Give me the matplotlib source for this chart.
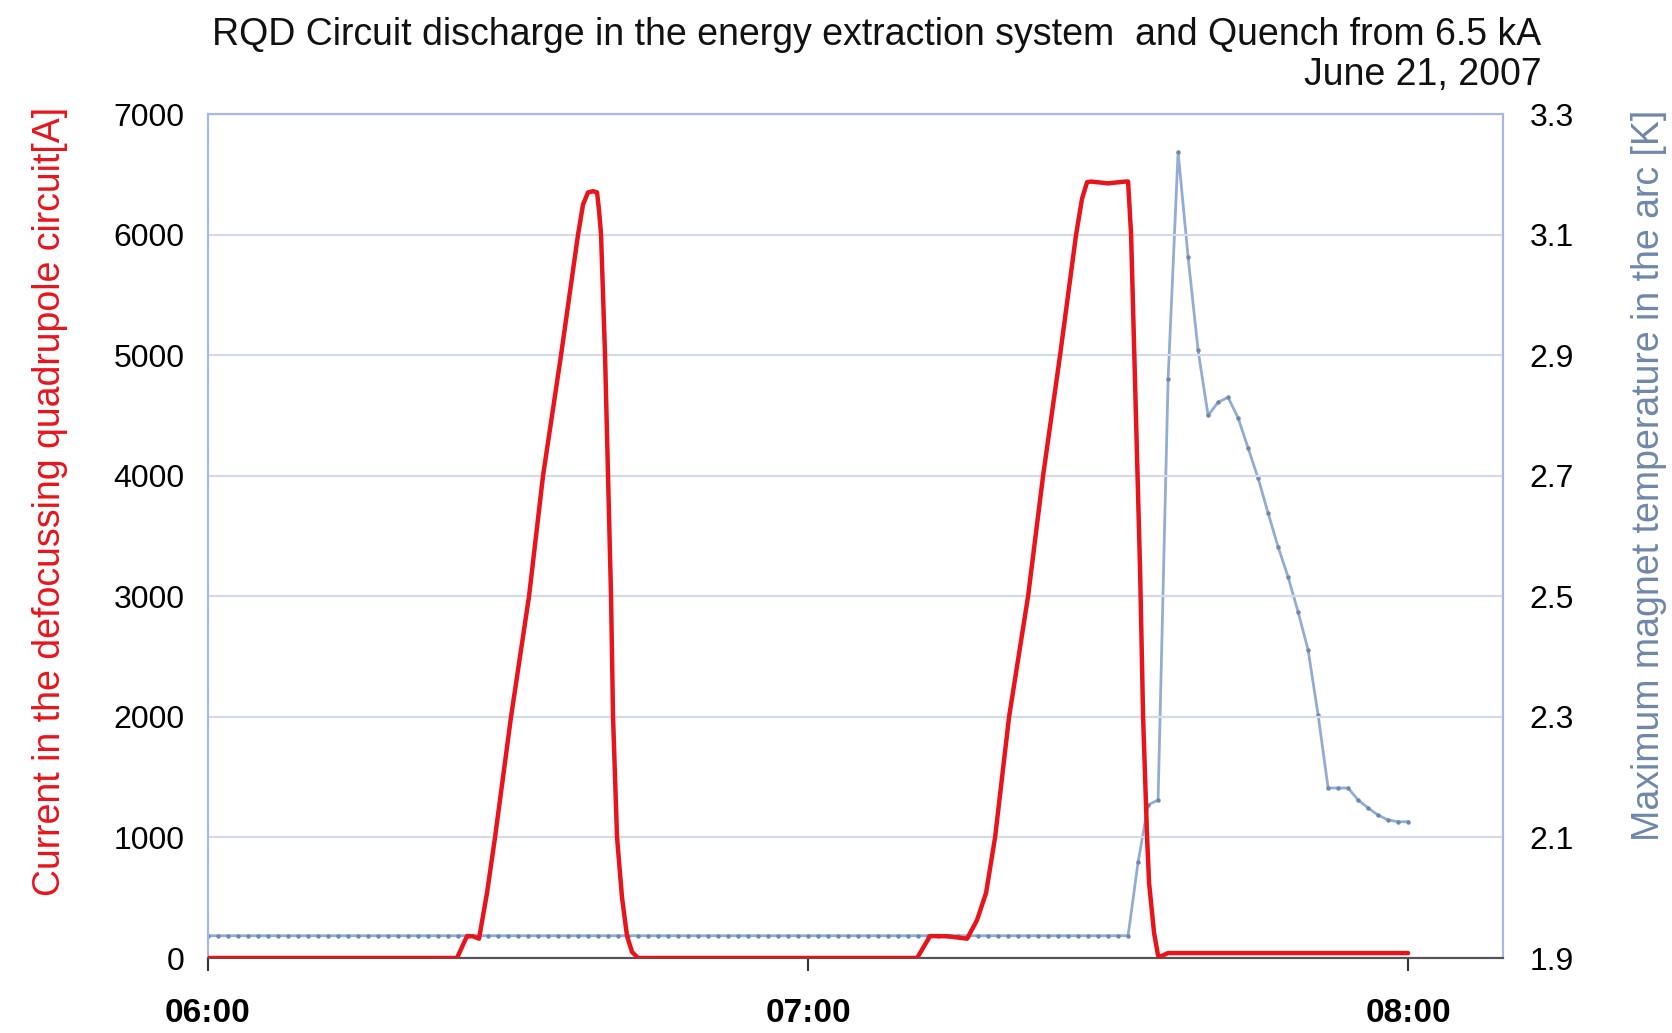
import matplotlib
matplotlib.use("Agg")
import matplotlib.pyplot as plt
from matplotlib import font_manager

# ---------------- data ----------------
# time in minutes after 06:00
current_time = [0, 24.9, 25.9, 26.5, 27.1, 27.9, 28.7, 30.3, 32.1, 33.5, 35.3, 37.0,
                37.5, 38.0, 38.5, 38.9, 39.1, 39.3, 39.7, 40.0, 40.3, 40.5, 40.9,
                41.4, 41.9, 42.4, 43.0,
                70.9, 72.2, 74.0, 75.9, 76.9, 77.8, 78.7, 80.1, 82.0, 83.5, 85.2,
                86.8, 87.4, 87.9, 88.3, 90.0, 91.7, 92.0, 92.3, 93.2, 93.5, 93.9,
                94.1, 94.6, 95.0, 95.3, 96.0, 120.0]
current_amp = [0, 0, 182, 180, 160, 540, 1000, 2000, 3000, 4000, 5000, 6000,
               6250, 6350, 6360, 6350, 6200, 6000, 5000, 4000, 3000, 2000, 1000,
               500, 182, 50, 0,
               0, 182, 180, 160, 315, 540, 1000, 2000, 3000, 4000, 5000,
               6000, 6300, 6435, 6440, 6425, 6440, 6440, 6000, 3217, 2000, 1000,
               620, 207, 20, 15, 41, 41]

temp_time = list(range(0, 121))
temp_K = ([1.937] * 93 +
          [2.059, 2.154, 2.162, 2.860, 3.237, 3.063, 2.908, 2.800, 2.822, 2.830,
           2.796, 2.746, 2.696, 2.638, 2.582, 2.532, 2.474, 2.411, 2.303, 2.182,
           2.182, 2.182, 2.162, 2.149, 2.137, 2.129, 2.126, 2.126])

x_ticks = [0, 60, 120]
x_tick_labels = ["06:00", "07:00", "08:00"]
left_ticks = [0, 1000, 2000, 3000, 4000, 5000, 6000, 7000]
right_ticks = [1.9, 2.1, 2.3, 2.5, 2.7, 2.9, 3.1, 3.3]

title_line1 = "RQD Circuit discharge in the energy extraction system  and Quench from 6.5 kA"
title_line2 = "June 21, 2007"
left_label = "Current in the defocussing quadrupole circuit[A]"
right_label = "Maximum magnet temperature in the arc [K]"

# ---------------- style ----------------
avail = {f.name for f in font_manager.fontManager.ttflist}
narrow = "Liberation Sans Narrow" if "Liberation Sans Narrow" in avail else "Liberation Sans"
plt.rcParams['font.family'] = [narrow, 'DejaVu Sans']

RED = "#e8141b"
BLUE_LINE = "#93acd3"
BLUE_MARK = "#6f88ae"
SPINE_BLUE = "#a8b8e0"
GRID = "#d4dbe6"
LABEL_BLUE = "#6f87a8"

fig = plt.figure(figsize=(16.72, 10.33), dpi=100)
ax = fig.add_axes([0.1244, 0.0726, 0.899 - 0.1244, 0.8896 - 0.0726])
ax2 = ax.twinx()

ax.set_xlim(0, 129.5)
ax.set_ylim(0, 7000)
ax2.set_ylim(1.9, 3.3)

ax.set_yticks(left_ticks)
ax.set_yticklabels([str(v) for v in left_ticks])
ax2.set_yticks(right_ticks)
ax2.set_yticklabels([f"{v:.1f}" for v in right_ticks])
ax.set_xticks(x_ticks)
ax.set_xticklabels(x_tick_labels, fontweight='bold')

ax.grid(axis='y', color=GRID, linewidth=1.6)
ax.set_axisbelow(True)

ax2.plot(temp_time, temp_K, color=BLUE_LINE, linewidth=2.0, marker='o',
         markersize=2.2, markerfacecolor=BLUE_MARK, markeredgecolor=BLUE_MARK, zorder=2)
ax.set_zorder(ax2.get_zorder() + 1)
ax.patch.set_visible(False)
ax.plot(current_time, current_amp, color=RED, linewidth=3.2, solid_joinstyle='round',
        solid_capstyle='round', zorder=3)

for a in (ax, ax2):
    for s in ('left', 'right', 'top'):
        a.spines[s].set_color(SPINE_BLUE)
        a.spines[s].set_linewidth(1.5)
    a.spines['bottom'].set_color('#555555')
    a.spines['bottom'].set_linewidth(1.5)

ax.tick_params(axis='y', length=0, labelsize=23, pad=17, colors='black')
ax2.tick_params(axis='y', length=0, labelsize=23, pad=19, colors='black')
ax.tick_params(axis='x', length=9, width=1.5, color='#333333', labelsize=24, pad=20)

fig.text(0.03, 0.515, left_label, rotation=90, color=RED, fontsize=27,
         ha='center', va='center')
fig.text(0.986, 0.54, right_label, rotation=90, color=LABEL_BLUE, fontsize=27,
         ha='center', va='center')

fig.text(0.922, 0.966, title_line1, ha='right', va='center', fontsize=27, color='#111111')
fig.text(0.922, 0.927, title_line2, ha='right', va='center', fontsize=27, color='#111111')

fig.savefig("out.png", dpi=100)
